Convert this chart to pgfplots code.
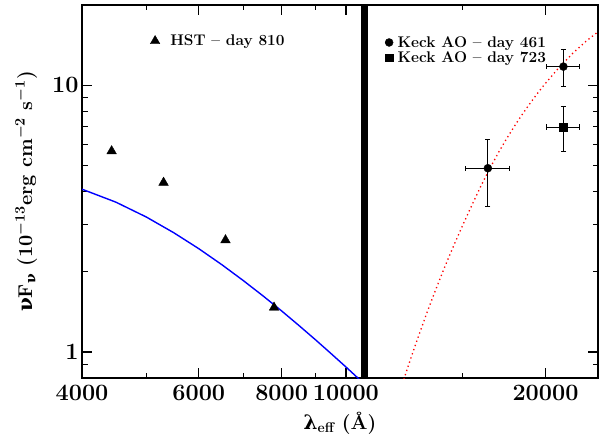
\documentclass[border=0pt]{standalone}
\usepackage{fontspec}
\newfontfamily\gr{DejaVu Serif}
\usepackage{pgfplots}
\pgfplotsset{compat=1.18}
\begin{document}
\begin{tikzpicture}
\begin{axis}[
  xmode=log, ymode=log,
  scale only axis, width=516bp, height=373bp,
  xmin=4000, xmax=24000, ymin=0.8, ymax=20,
  legend style={at={(0.132,0.9035)}, anchor=west, draw=none, fill=none, inner sep=0pt,
      font=\fontsize{15.5}{17}\selectfont\bfseries,
      nodes={inner sep=1.5bp}, column sep=9bp},
  legend cell align=left,
  legend image code/.code={\draw plot coordinates {(0cm,0cm)};},
  axis line style={line width=1.8bp},
  every tick/.style={black, line width=1.3bp},
  major tick length=10bp, minor tick length=5.5bp,
  tick align=inside,
  xtick={4000,6000,8000,10000,20000},
  xticklabels={4000,6000,8000,10000,20000},
  minor xtick={5000,7000,9000,15000},
  ytick={1,10}, yticklabels={1,10},
  minor ytick={0.8,0.9,2,3,4,5,6,7,8,9,20},
  ticklabel style={font=\fontsize{23.5}{25}\selectfont\bfseries},
  xticklabel style={yshift=-4bp},
  xlabel={{\gr λ}\textsubscript{eff} (Å)},
  ylabel={{\gr ν}F\textsubscript{\gr ν} (10$^{-13}$erg cm$^{-2}$ s$^{-1}$)},
  label style={font=\fontsize{20}{22}\selectfont\bfseries\boldmath},
  xlabel style={at={(axis description cs:0.5,-0.082)}, anchor=north},
  ylabel style={at={(axis description cs:-0.108,0.5)}, anchor=center},
]
\addplot[blue, line width=1.4bp, forget plot] coordinates {
(4000,4.08) (4500,3.648) (5000,3.210) (5500,2.803) (6000,2.442) (6500,2.127)
(7000,1.856) (7500,1.625) (8000,1.427) (8500,1.257) (9000,1.112) (9500,0.987)
(10000,0.880) (10500,0.787)};
\addplot[only marks, mark=triangle*, mark size=5.5bp, black] coordinates {
(4433,5.67) (5309,4.32) (6583,2.63) (7792,1.47)};
\addlegendentry{HST -- day 810}
\addplot[red, line width=1.3bp, dash pattern=on 1.3bp off 3.1bp, forget plot] coordinates {
(12000,0.684) (12300,0.827) (12600,0.989) (12900,1.169) (13200,1.370) (13500,1.590)
(13800,1.830) (14100,2.091) (14500,2.468) (15000,2.99) (15500,3.57) (16000,4.22)
(16500,4.90) (17000,5.62) (17500,6.35) (18000,7.10) (18500,7.86) (19000,8.63)
(19500,9.41) (20000,10.18) (21000,11.72) (22000,13.2) (23000,14.6) (24000,15.87)};
\addplot[black, line width=7bp, forget plot] coordinates {(10650,0.8) (10650,20)};
\end{axis}
\begin{axis}[
  xmode=log, ymode=log,
  scale only axis, width=516bp, height=373bp,
  xmin=4000, xmax=24000, ymin=0.8, ymax=20,
  hide axis,
  legend style={at={(0.587,0.879)}, anchor=west, draw=none, fill=none, inner sep=0pt,
      font=\fontsize{15.5}{17}\selectfont\bfseries,
      nodes={inner sep=1.5bp}, column sep=3bp},
  legend cell align=left,
  legend image code/.code={\draw plot coordinates {(0cm,0cm)};},
]
\addplot[only marks, mark=*, mark size=4bp, black,
  error bars/.cd, x dir=both, x explicit, y dir=both, y explicit,
  error bar style={line width=0.9bp, black},
  error mark options={rotate=90, line width=0.9bp, mark size=2.6bp, black}]
  coordinates {(16370,4.89) +- (1250,1.37) (21280,11.75) +- (1250,1.83)};
\addlegendentry{Keck AO -- day 461}
\addplot[only marks, mark=square*, mark size=3.8bp, black,
  error bars/.cd, x dir=both, x explicit, y dir=both, y explicit,
  error bar style={line width=0.9bp, black},
  error mark options={rotate=90, line width=0.9bp, mark size=2.6bp, black}]
  coordinates {(21280,6.98) +- (1250,1.35)};
\addlegendentry{Keck AO -- day 723}
\end{axis}
\pgfresetboundingbox
\path[use as bounding box] (current axis.south west) ++(-82bp,-63bp) rectangle ++(601bp,441bp);
\end{tikzpicture}
\end{document}
